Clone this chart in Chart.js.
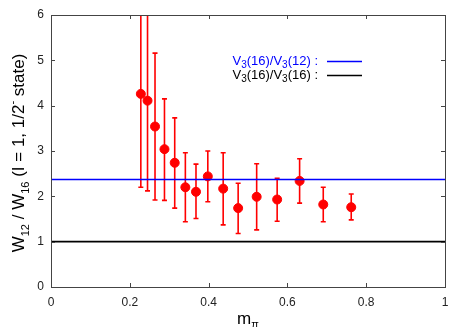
<!DOCTYPE html>
<html>
<head>
<meta charset="utf-8">
<script src="https://cdn.jsdelivr.net/npm/chart.js@4/dist/chart.umd.min.js"></script>
<style>
  html, body { margin: 0; padding: 0; background: #fff; }
  #wrap { width: 467px; height: 327px; }
</style>
</head>
<body>
<div id="wrap"><canvas id="c" width="467" height="327"></canvas></div>
<script>
// m_pi values and W12/W16 ratios
var mpi    = [0.228, 0.245, 0.264, 0.288, 0.314, 0.341, 0.368, 0.398, 0.437, 0.475, 0.522, 0.574, 0.631, 0.691, 0.762];
var ratio  = [4.26, 4.11, 3.54, 3.04, 2.74, 2.20, 2.10, 2.44, 2.17, 1.74, 1.99, 1.93, 2.34, 1.82, 1.76];
var errTop = [6.6, 6.6, 5.16, 4.15, 3.73, 2.96, 2.71, 3.00, 2.96, 2.29, 2.72, 2.40, 2.83, 2.20, 2.05];
var errBot = [2.20, 2.12, 1.92, 1.91, 1.74, 1.44, 1.51, 1.88, 1.37, 1.18, 1.26, 1.45, 1.85, 1.44, 1.48];

var refV12 = 2.37;   // V3(16)/V3(12)
var refV16 = 1.0;    // V3(16)/V3(16)

var xTicks = [0, 0.2, 0.4, 0.6, 0.8, 1];
var yTicks = [0, 1, 2, 3, 4, 5, 6];

var FONT = '"Liberation Sans", Arial, sans-serif';

var points = mpi.map(function(x, i) {
    return { x: x, y: ratio[i], hi: errTop[i], lo: errBot[i] };
});

// error bars, drawn before the dots
var errorBars = {
    id: 'errorBars',
    beforeDatasetsDraw: function(chart) {
        var ctx = chart.ctx, xs = chart.scales.x, ys = chart.scales.y, a = chart.chartArea;
        ctx.save();
        ctx.beginPath();
        ctx.rect(a.left, a.top, a.right - a.left, a.bottom - a.top);
        ctx.clip();
        ctx.strokeStyle = '#ff0000';
        ctx.lineWidth = 1.6;
        points.forEach(function(p) {
            var px = xs.getPixelForValue(p.x);
            var t = ys.getPixelForValue(p.hi), b = ys.getPixelForValue(p.lo);
            ctx.beginPath();
            ctx.moveTo(px, t); ctx.lineTo(px, b);
            ctx.moveTo(px - 2.5, t); ctx.lineTo(px + 2.5, t);
            ctx.moveTo(px - 2.5, b); ctx.lineTo(px + 2.5, b);
            ctx.stroke();
        });
        ctx.restore();
    }
};

// gnuplot style frame, inward ticks, legend and axis titles
var frame = {
    id: 'frame',
    afterDraw: function(chart) {
        var ctx = chart.ctx, xs = chart.scales.x, ys = chart.scales.y, a = chart.chartArea;
        ctx.save();
        ctx.strokeStyle = '#444';
        ctx.lineWidth = 1;
        ctx.strokeRect(a.left + 0.5, a.top + 0.5, a.right - a.left, a.bottom - a.top);
        ctx.beginPath();
        xTicks.forEach(function(v) {
            var px = Math.round(xs.getPixelForValue(v)) + 0.5;
            ctx.moveTo(px, a.bottom); ctx.lineTo(px, a.bottom - 4);
            ctx.moveTo(px, a.top); ctx.lineTo(px, a.top + 4);
        });
        yTicks.forEach(function(v) {
            var py = Math.round(ys.getPixelForValue(v)) + 0.5;
            ctx.moveTo(a.left, py); ctx.lineTo(a.left + 4, py);
            ctx.moveTo(a.right, py); ctx.lineTo(a.right - 4, py);
        });
        ctx.stroke();

        // legend
        function legendRow(y, color, n) {
            ctx.fillStyle = color;
            ctx.textBaseline = 'middle';
            var parts = [['V', 0], ['3', 1], ['(16)/V', 0], ['3', 1], ['(' + n + ') :', 0]];
            var w = 0;
            parts.forEach(function(p) {
                ctx.font = (p[1] ? '10px ' : '13px ') + FONT;
                w += ctx.measureText(p[0]).width;
            });
            var x = 318 - w;
            parts.forEach(function(p) {
                ctx.font = (p[1] ? '10px ' : '13px ') + FONT;
                ctx.fillText(p[0], x, y + (p[1] ? 4 : 0));
                x += ctx.measureText(p[0]).width;
            });
            ctx.strokeStyle = color;
            ctx.lineWidth = 1.6;
            ctx.beginPath();
            ctx.moveTo(327, y + 0.5); ctx.lineTo(362, y + 0.5);
            ctx.stroke();
        }
        legendRow(61, '#0000ff', 12);
        legendRow(75, '#000000', 16);

        // x title: m_pi
        ctx.fillStyle = '#000';
        ctx.textBaseline = 'alphabetic';
        ctx.font = '17px ' + FONT;
        var mw = ctx.measureText('m').width;
        ctx.font = '11px ' + FONT;
        var pw = ctx.measureText('π').width;
        var x0 = (a.left + a.right) / 2 - (mw + pw) / 2;
        ctx.font = '17px ' + FONT;
        ctx.fillText('m', x0, 324);
        ctx.font = '11px ' + FONT;
        ctx.fillText('π', x0 + mw, 328);

        // y title: W12 / W16 (I = 1, 1/2- state)
        var parts = [['W', 0], ['12', 1], [' / W', 0], ['16', 1], [' (I = 1, 1/2', 0], ['-', 2], [' state)', 0]];
        function pf(p) { return (p[1] ? '11px ' : '17px ') + FONT; }
        var tw = 0;
        parts.forEach(function(p) { ctx.font = pf(p); tw += ctx.measureText(p[0]).width; });
        ctx.translate(24, 153);
        ctx.rotate(-Math.PI / 2);
        var x = -tw / 2;
        parts.forEach(function(p) {
            ctx.font = pf(p);
            var dy = p[1] === 1 ? 5 : (p[1] === 2 ? -8 : 0);
            ctx.fillText(p[0], x, dy);
            x += ctx.measureText(p[0]).width;
        });
        ctx.restore();
    }
};

var ctx = document.getElementById('c');
new Chart(ctx, {
    type: 'scatter',
    data: {
        datasets: [
            {
                type: 'line',
                data: [{ x: 0, y: refV12 }, { x: 1, y: refV12 }],
                borderColor: '#0000ff',
                borderWidth: 1.6,
                pointRadius: 0
            },
            {
                type: 'line',
                data: [{ x: 0, y: refV16 }, { x: 1, y: refV16 }],
                borderColor: '#000000',
                borderWidth: 1.6,
                pointRadius: 0
            },
            {
                data: points,
                backgroundColor: '#ff0000',
                borderColor: '#ff0000',
                pointRadius: 4.5,
                pointHoverRadius: 4.5
            }
        ]
    },
    options: {
        responsive: false,
        animation: false,
        events: [],
        layout: { padding: { top: 15, right: 22, left: 0, bottom: 0 } },
        plugins: {
            legend: { display: false },
            tooltip: { enabled: false }
        },
        scales: {
            x: {
                type: 'linear',
                min: 0, max: 1,
                border: { display: false },
                grid: { display: false, drawTicks: false },
                afterBuildTicks: function(s) { s.ticks = xTicks.map(function(v) { return { value: v }; }); },
                afterFit: function(s) { s.height = 40; },
                ticks: {
                    padding: 8,
                    maxRotation: 0,
                    color: '#222',
                    font: { family: FONT, size: 12 },
                    callback: function(v) { return String(v); }
                }
            },
            y: {
                type: 'linear',
                min: 0, max: 6,
                border: { display: false },
                grid: { display: false, drawTicks: false },
                afterBuildTicks: function(s) { s.ticks = yTicks.map(function(v) { return { value: v }; }); },
                afterFit: function(s) { s.width = 51; },
                ticks: {
                    padding: 7,
                    color: '#222',
                    font: { family: FONT, size: 12 },
                    callback: function(v) { return String(v); }
                }
            }
        }
    },
    plugins: [errorBars, frame]
});
</script>
</body>
</html>
